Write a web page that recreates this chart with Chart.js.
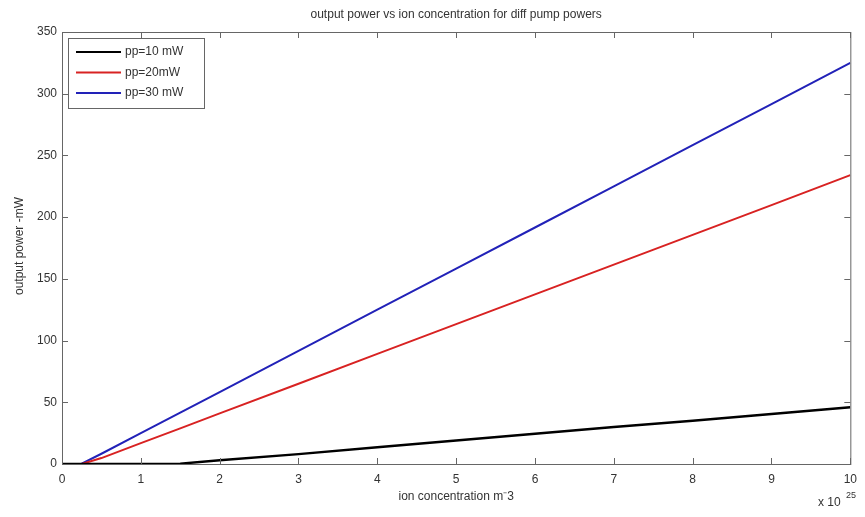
<!DOCTYPE html>
<html>
<head>
<meta charset="utf-8">
<script src="https://cdn.jsdelivr.net/npm/chart.js@4"></script>
<style>
  html, body { margin: 0; padding: 0; background: #fff; }
  #wrap { width: 865px; height: 517px; }
</style>
</head>
<body>
<div id="wrap"><canvas id="chart" width="865" height="517"></canvas></div>
<script>
// dane (x w jednostkach 1e25 m^-3)
const concentration = [0, 0.25, 0.5, 1, 1.5, 2, 3, 4, 5, 6, 7, 8, 9, 10];
const pp10 = [0, 0, 0, 0, 0.3, 3, 8, 13.5, 19, 24.5, 30, 35, 40.5, 46];
const pp20 = [0, 0, 4.8, 16.9, 28.9, 41, 65, 89.2, 113.3, 137.4, 161.5, 185.6, 209.7, 234];
const pp30 = [0, 0.3, 8.3, 25, 41.6, 58.3, 91.6, 125, 158.3, 191.6, 225, 258.3, 291.6, 325];
const seriesLabels = ['pp=10 mW', 'pp=20mW', 'pp=30 mW'];
const seriesColors = ['#000000', '#d82222', '#2222b8'];
const xTicks = [0, 1, 2, 3, 4, 5, 6, 7, 8, 9, 10];
const yTicks = [0, 50, 100, 150, 200, 250, 300, 350];

const FONT = '"Liberation Sans", Arial, sans-serif';
const toPoints = ys => concentration.map((x, i) => ({ x: x, y: ys[i] }));

// ramka, znaczniki do wewnątrz, tytuł, opisy osi i legenda w stylu MATLABa
const matlabFrame = {
    id: 'matlabFrame',
    afterDraw(chart) {
        const ctx = chart.ctx;
        const a = chart.chartArea;
        const xs = chart.scales.x, ys = chart.scales.y;
        ctx.save();
        ctx.strokeStyle = '#666';
        ctx.lineWidth = 1;
        ctx.strokeRect(a.left + 0.5, a.top + 0.5, a.right - a.left, a.bottom - a.top);
        ctx.beginPath();
        xTicks.forEach(t => {
            const px = Math.round(xs.getPixelForValue(t)) + 0.5;
            ctx.moveTo(px, a.bottom); ctx.lineTo(px, a.bottom - 6);
            ctx.moveTo(px, a.top); ctx.lineTo(px, a.top + 6);
        });
        yTicks.forEach(t => {
            const py = Math.round(ys.getPixelForValue(t)) + 0.5;
            ctx.moveTo(a.left, py); ctx.lineTo(a.left + 6, py);
            ctx.moveTo(a.right, py); ctx.lineTo(a.right - 6, py);
        });
        ctx.stroke();

        ctx.fillStyle = '#333';
        ctx.textAlign = 'center';
        ctx.textBaseline = 'middle';
        ctx.font = '12px ' + FONT;
        ctx.fillText('output power vs ion concentration for diff pump powers', (a.left + a.right) / 2, 15);
        ctx.fillText('ion concentration m\u207B3', (a.left + a.right) / 2, 497);

        // mnożnik osi x
        ctx.textAlign = 'left';
        ctx.fillText('x 10', 818, 503);
        ctx.font = '9px ' + FONT;
        ctx.fillText('25', 846, 496);

        ctx.font = '12px ' + FONT;
        ctx.translate(20, 246);
        ctx.rotate(-Math.PI / 2);
        ctx.textAlign = 'center';
        ctx.fillText('output power -mW', 0, 0);
        ctx.restore();

        // legenda
        ctx.save();
        const lx = 68, ly = 38, lw = 136, lh = 70;
        ctx.fillStyle = '#fff';
        ctx.fillRect(lx, ly, lw, lh);
        ctx.strokeStyle = '#666';
        ctx.strokeRect(lx + 0.5, ly + 0.5, lw, lh);
        ctx.font = '12px ' + FONT;
        ctx.textBaseline = 'middle';
        chart.data.datasets.forEach((ds, i) => {
            const y = ly + 14 + i * 20.5;
            ctx.strokeStyle = ds.borderColor;
            ctx.lineWidth = 2;
            ctx.beginPath();
            ctx.moveTo(76, y); ctx.lineTo(121, y);
            ctx.stroke();
            ctx.fillStyle = '#333';
            ctx.fillText(ds.label, 125, y);
        });
        ctx.restore();
    }
};

const ctx = document.getElementById('chart').getContext('2d');
new Chart(ctx, {
    type: 'line',
    data: {
        datasets: [pp10, pp20, pp30].map((ys, i) => ({
            label: seriesLabels[i],
            data: toPoints(ys),
            borderColor: seriesColors[i],
            borderWidth: i === 0 ? 2.5 : 2,
            pointRadius: 0,
            tension: 0,
            fill: false
        }))
    },
    options: {
        responsive: false,
        animation: false,
        layout: { padding: { left: 0, right: 7, top: 32, bottom: 0 } },
        plugins: { legend: { display: false }, title: { display: false }, tooltip: { enabled: false } },
        scales: {
            x: {
                type: 'linear', min: 0, max: 10,
                afterBuildTicks: s => { s.ticks = xTicks.map(v => ({ value: v })); },
                afterFit: s => { s.height = 53; },
                grid: { display: false, drawTicks: false },
                border: { display: false },
                ticks: { padding: 8, color: '#333', font: { family: FONT, size: 12 }, maxRotation: 0 }
            },
            y: {
                type: 'linear', min: 0, max: 350,
                afterBuildTicks: s => { s.ticks = yTicks.map(v => ({ value: v })); },
                afterFit: s => { s.width = 62; },
                grid: { display: false, drawTicks: false },
                border: { display: false },
                ticks: { padding: 5, color: '#333', font: { family: FONT, size: 12 } }
            }
        }
    },
    plugins: [matlabFrame]
});
</script>
</body>
</html>
